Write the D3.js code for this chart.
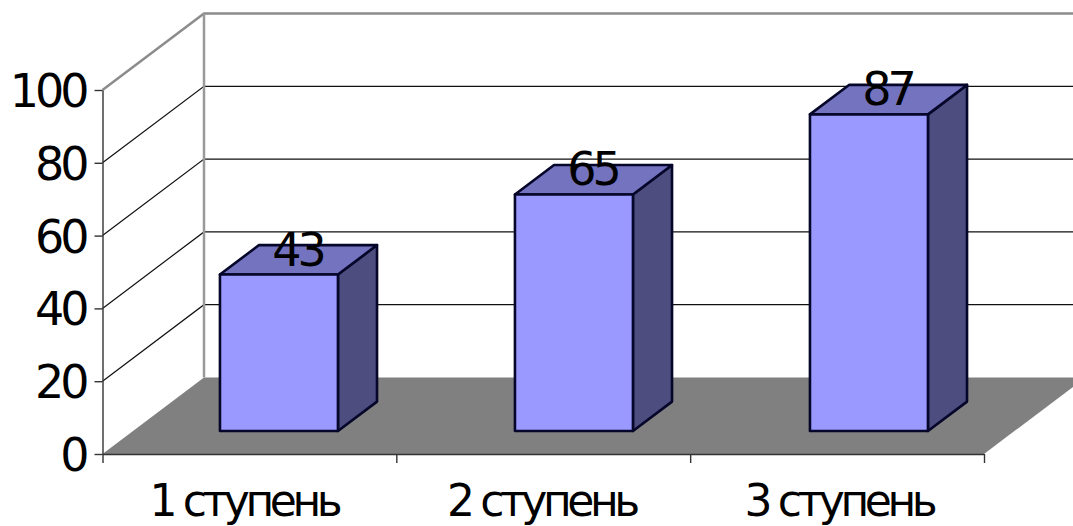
<!DOCTYPE html>
<html>
<head>
<meta charset="utf-8">
<script src="https://cdn.jsdelivr.net/npm/d3@7"></script>
<style>
  html, body { margin: 0; padding: 0; background: #fff; }
  text { font-family: "DejaVu Sans", sans-serif; fill: #000; }
</style>
</head>
<body>
<div id="chart"></div>
<script>
var categories = ["1 ступень", "2 ступень", "3 ступень"];
var values = [43, 65, 87];
var valueLabels = ["43", "65", "87"];
var yTicks = [0, 20, 40, 60, 80, 100];

var svgWidth = 1073;
var svgHeight = 526;

var svg = d3.select("#chart")
  .append("svg")
  .attr("width", svgWidth)
  .attr("height", svgHeight)
  .style("display", "block");

// front plane of the floor
var x0 = 102.5;
var x1 = 984;

// bars
var xScale = d3.scaleBand()
  .domain(categories)
  .range([101, 986])
  .paddingInner(0.6)
  .paddingOuter(0.3);

// category labels don't sit quite on the bars
var labelScale = d3.scalePoint()
  .domain(categories)
  .range([244, 839]);

var yScale = d3.scaleLinear()
  .domain([0, 100])
  .range([454, 90]);

// depth goes 0 (front) to 1 (back wall)
var depthX = d3.scaleLinear().domain([0, 1]).range([0, 101.5]);
var depthY = d3.scaleLinear().domain([0, 1]).range([0, -76.5]);

var barFront = 0.3;
var barBack = 0.685;

function pt(x, y, d) {
  return [x + depthX(d), y + depthY(d)];
}
var line = d3.line();

// floor
svg.append("path")
  .attr("d", line([pt(x0, yScale(0), 0), pt(x0, yScale(0), 1), pt(x1, yScale(0), 1), pt(x1, yScale(0), 0)]) + "Z")
  .attr("fill", "#808080");

// gridlines on side wall and back wall
yTicks.filter(d => d > 0).forEach(function(t) {
  svg.append("path")
    .attr("d", line([pt(x0, yScale(t), 0), pt(x0, yScale(t), 1), pt(x1, yScale(t), 1)]))
    .attr("fill", "none")
    .attr("stroke", t === 100 ? "#8c8c8c" : "#111")
    .attr("stroke-width", t === 100 ? 2.5 : 1.2);
});

// back wall left edge
svg.append("path")
  .attr("d", line([pt(x0, yScale(100), 1), pt(x0, yScale(0), 1)]))
  .attr("stroke", "#999")
  .attr("stroke-width", 2.5);

// axes
var leftAxis = d3.axisLeft(yScale).tickValues(yTicks).tickSize(8).tickSizeOuter(0);
var yAxisGroup = svg.append("g")
  .attr("transform", `translate(${x0}, 0)`)
  .call(leftAxis);
yAxisGroup.selectAll("text")
  .attr("x", -17)
  .attr("dy", "0.36em")
  .attr("font-size", 46)
  .attr("letter-spacing", -4);

var tickScale = d3.scalePoint()
  .domain(d3.range(categories.length + 1))
  .range([x0, x1]);
var bottomAxis = d3.axisBottom(tickScale).tickSize(9).tickSizeOuter(0).tickFormat("");
svg.append("g")
  .attr("transform", `translate(0, ${yScale(0)})`)
  .call(bottomAxis);
svg.selectAll(".domain, .tick line").attr("stroke", "#333").attr("stroke-width", 1.4);

// category labels
svg.selectAll(".cat")
  .data(categories)
  .enter()
  .append("text")
  .attr("class", "cat")
  .attr("x", d => labelScale(d))
  .attr("y", 516)
  .attr("text-anchor", "middle")
  .attr("font-size", 44)
  .attr("letter-spacing", -4.4)
  .text(d => d);

// bars
var bars = svg.selectAll(".bar")
  .data(values)
  .enter()
  .append("g")
  .attr("class", "bar");

function barLeft(i) { return xScale(categories[i]) + depthX(barFront); }
function barRight(i) { return barLeft(i) + xScale.bandwidth(); }
function barBase() { return yScale(0) + depthY(barFront); }
function barTop(d) { return yScale(d) + depthY(barFront); }
var shift = barBack - barFront;

bars.append("path") // side
  .attr("d", (d, i) => line([[barRight(i), barBase()], pt(barRight(i), barBase(), shift), pt(barRight(i), barTop(d), shift), [barRight(i), barTop(d)]]) + "Z")
  .attr("fill", "#4d4d80");
bars.append("path") // top
  .attr("d", (d, i) => line([[barLeft(i), barTop(d)], pt(barLeft(i), barTop(d), shift), pt(barRight(i), barTop(d), shift), [barRight(i), barTop(d)]]) + "Z")
  .attr("fill", "#7373bf");
bars.append("rect") // front
  .attr("x", (d, i) => barLeft(i))
  .attr("y", d => barTop(d))
  .attr("width", xScale.bandwidth())
  .attr("height", d => barBase() - barTop(d))
  .attr("fill", "#9999ff");
bars.selectAll("path, rect")
  .attr("stroke", "#06062a")
  .attr("stroke-width", 2.6)
  .attr("stroke-linejoin", "round");

// value labels
svg.selectAll(".val")
  .data(values)
  .enter()
  .append("text")
  .attr("class", "val")
  .attr("x", (d, i) => barLeft(i) + xScale.bandwidth() / 2 + depthX(shift / 2) - 1)
  .attr("y", d => barTop(d) - 9)
  .attr("text-anchor", "middle")
  .attr("font-size", 46)
  .attr("letter-spacing", -4)
  .text((d, i) => valueLabels[i]);
</script>
</body>
</html>
